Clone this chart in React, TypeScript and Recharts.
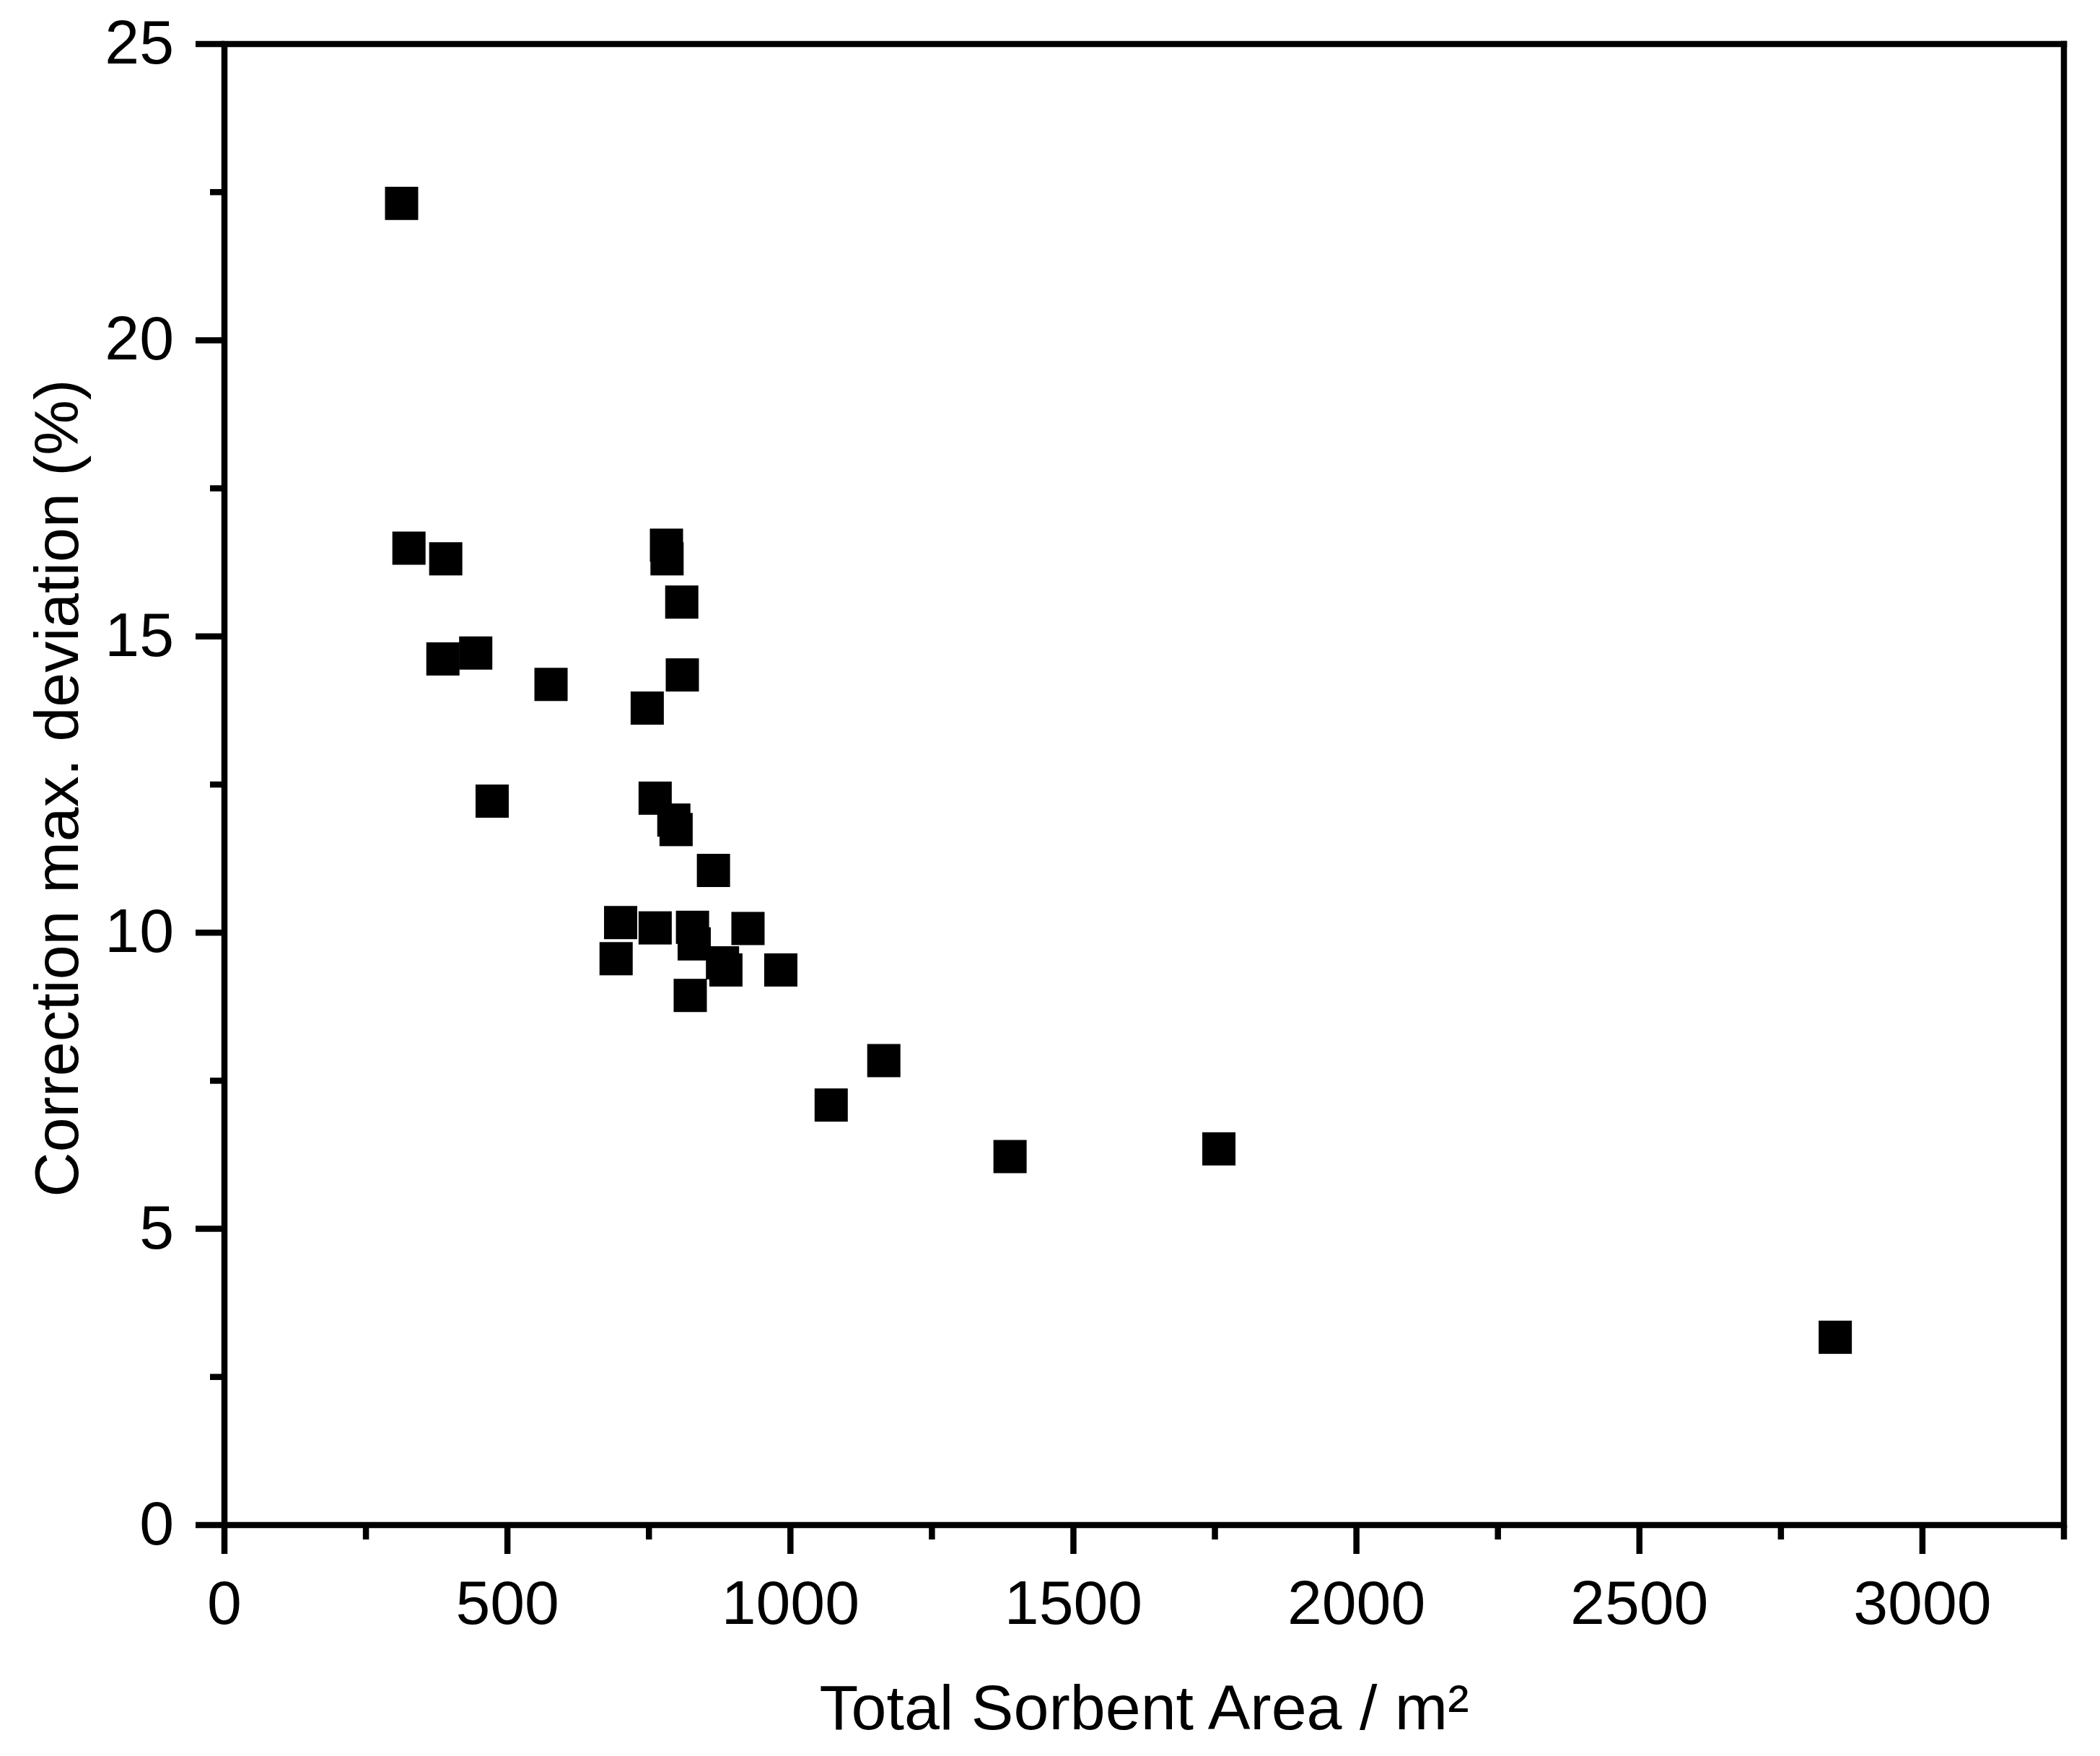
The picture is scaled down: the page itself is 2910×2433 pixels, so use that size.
import React from 'react';
import { ScatterChart, Scatter, XAxis, YAxis, ReferenceLine } from 'recharts';

// Total sorbent area (m²) for each measurement
const areaValues = [
  313, 326, 391, 386, 444, 577, 473, 781, 782, 808, 809, 747, 761, 794, 798, 864,
  700, 761, 827, 830, 925, 692, 880, 886, 983, 823, 1072, 1165, 1388, 1757, 2846,
];
// Correction max. deviation (%) for each measurement
const deviationValues = [
  22.31, 16.49, 16.31, 14.62, 14.72, 14.19, 12.22, 16.54, 16.31, 15.58, 14.35, 13.79, 12.27, 11.9, 11.74, 11.05,
  10.17, 10.08, 10.09, 9.81, 10.07, 9.56, 9.49, 9.37, 9.37, 8.94, 7.09, 7.84, 6.22, 6.35, 3.17,
];

const xTicks = [0, 250, 500, 750, 1000, 1250, 1500, 1750, 2000, 2250, 2500, 2750, 3000, 3250];
const xMajorTicks = [0, 500, 1000, 1500, 2000, 2500, 3000];
const yTicks = [0, 2.5, 5, 7.5, 10, 12.5, 15, 17.5, 20, 22.5, 25];
const yMajorTicks = [0, 5, 10, 15, 20, 25];

const xAxisTitle = 'Total Sorbent Area / m²';
const yAxisTitle = 'Correction max. deviation (%)';

const points = areaValues.map((x, i) => ({ x, y: deviationValues[i] }));

const FONT = '"Liberation Sans", Arial, Helvetica, sans-serif';
const STROKE = 8.5;
const TICK = 40;
const MINOR = 20;
const FS = 86;

function XTick(props: any) {
  const { x, y, payload } = props;
  const v = payload.value;
  const major = xMajorTicks.includes(v);
  const axisY = y - TICK;
  return (
    <g>
      <line x1={x} x2={x} y1={axisY} y2={axisY + (major ? TICK : MINOR)} stroke="#000" strokeWidth={STROKE} />
      {major && (
        <text x={x} y={axisY + 137} textAnchor="middle" fontSize={FS} fontFamily={FONT} fill="#000">
          {v}
        </text>
      )}
    </g>
  );
}

function YTick(props: any) {
  const { x, y, payload } = props;
  const v = payload.value;
  const major = yMajorTicks.includes(v);
  const axisX = x + TICK;
  return (
    <g>
      <line x1={axisX - (major ? TICK : MINOR)} x2={axisX} y1={y} y2={y} stroke="#000" strokeWidth={STROKE} />
      {major && (
        <text x={axisX - 70} y={y + 27} textAnchor="end" fontSize={FS} fontFamily={FONT} fill="#000">
          {v}
        </text>
      )}
    </g>
  );
}

function SquareMarker(props: any) {
  const { cx, cy } = props;
  if (cx == null || cy == null) return null;
  return <rect x={cx - 23} y={cy - 23} width={46} height={46} fill="#000" />;
}

function XTitle(props: any) {
  const vb = props.viewBox;
  return (
    <text x={vb.x + vb.width / 2} y={vb.y + 283} textAnchor="middle" fontSize={88} fontFamily={FONT} fill="#000">
      {xAxisTitle}
    </text>
  );
}

function YTitle(props: any) {
  const vb = props.viewBox;
  const bx = vb.x + vb.width - 203;
  const cy = vb.y + vb.height / 2 + 5;
  return (
    <text
      x={bx}
      y={cy}
      transform={`rotate(-90, ${bx}, ${cy})`}
      textAnchor="middle"
      fontSize={FS}
      fontFamily={FONT}
      fill="#000"
    >
      {yAxisTitle}
    </text>
  );
}

export default function App() {
  return (
    <div style={{ position: 'absolute', left: 0, top: 0, width: 2910, height: 2433, background: '#fff' }}>
      <ScatterChart width={2910} height={2433} margin={{ top: 61, right: 50, left: 111, bottom: 120 }}>
        <XAxis
          dataKey="x"
          type="number"
          domain={[0, 3250]}
          ticks={xTicks}
          interval={0}
          allowDataOverflow
          height={200}
          tickSize={TICK}
          tickMargin={0}
          tickLine={false}
          tick={<XTick />}
          axisLine={{ stroke: '#000', strokeWidth: STROKE }}
          label={{ content: <XTitle /> }}
        />
        <YAxis
          dataKey="y"
          type="number"
          domain={[0, 25]}
          ticks={yTicks}
          interval={0}
          allowDataOverflow
          width={200}
          tickSize={TICK}
          tickMargin={0}
          tickLine={false}
          tick={<YTick />}
          axisLine={{ stroke: '#000', strokeWidth: STROKE }}
          label={{ content: <YTitle /> }}
        />
        <ReferenceLine y={25} stroke="#000" strokeWidth={STROKE} strokeLinecap="square" />
        <ReferenceLine x={3250} stroke="#000" strokeWidth={STROKE} strokeLinecap="square" />
        <Scatter data={points} fill="#000" shape={<SquareMarker />} isAnimationActive={false} />
      </ScatterChart>
    </div>
  );
}
